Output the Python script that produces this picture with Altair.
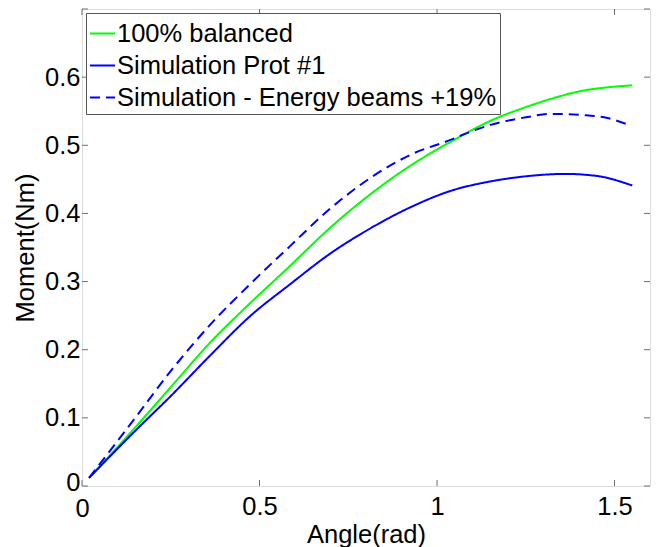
import altair as alt
import pandas as pd

# ---- data ----
x_green = [0.02, 0.15, 0.25, 0.36, 0.473, 0.586, 0.699, 0.812, 0.925, 1.038, 1.09, 1.151, 1.25, 1.32, 1.42, 1.48, 1.55]
y_green = [0.012, 0.086, 0.145, 0.210, 0.268, 0.323, 0.379, 0.428, 0.470, 0.505, 0.520, 0.536, 0.556, 0.568, 0.581, 0.585, 0.588]

x_prot = [0.02, 0.15, 0.25, 0.36, 0.473, 0.586, 0.699, 0.812, 0.925, 1.038, 1.151, 1.26, 1.36, 1.45, 1.55]
y_prot = [0.012, 0.081, 0.132, 0.191, 0.249, 0.296, 0.341, 0.378, 0.409, 0.433, 0.447, 0.455, 0.458, 0.455, 0.441]

x_energy = [0.02, 0.15, 0.252, 0.36, 0.473, 0.586, 0.699, 0.812, 0.925, 1.038, 1.09, 1.151, 1.25, 1.32, 1.42, 1.48, 1.54]
y_energy = [0.012, 0.100, 0.170, 0.236, 0.296, 0.352, 0.407, 0.452, 0.486, 0.508, 0.519, 0.530, 0.541, 0.546, 0.544, 0.540, 0.530]

series_names = ["100% balanced", "Simulation Prot #1", "Simulation - Energy beams +19%"]
series_colors = ["#00FF00", "#0000FF", "#0000FF"]
series_dash = [[1, 0], [1, 0], [10, 6]]

x_ticks = [0, 0.5, 1, 1.5]
y_ticks = [0, 0.1, 0.2, 0.3, 0.4, 0.5, 0.6]
x_domain = [0, 1.6]
y_domain = [0, 0.7]

rows = []
for name, xs, ys in zip(series_names, [x_green, x_prot, x_energy], [y_green, y_prot, y_energy]):
    for i, (a, b) in enumerate(zip(xs, ys)):
        rows.append({"series": name, "angle": a, "moment": b, "order": i})
df = pd.DataFrame(rows)

W, H = 568, 477
FONT = "Liberation Sans"
FRAME = "#707070"
FS = 25.5

xscale = alt.Scale(domain=x_domain, nice=False, zero=False)
yscale = alt.Scale(domain=y_domain, nice=False, zero=False)

lines = alt.Chart(df).mark_line(strokeWidth=2, clip=True, interpolate="monotone").encode(
    x=alt.X("angle:Q", scale=xscale, title="Angle(rad)",
            axis=alt.Axis(values=x_ticks, format="~g", tickSize=0,
                          labelPadding={"condition": {"test": "datum.value == 0", "value": 10}, "value": 8},
                          grid=False,
                          domain=False, labelFontSize=FS, titleFontSize=FS,
                          labelFont=FONT, titleFont=FONT, labelColor="black",
                          titleColor="black", titleFontWeight="normal", titlePadding=1,
                          labelFlush=False)),
    y=alt.Y("moment:Q", scale=yscale, title="Moment(Nm)",
            axis=alt.Axis(values=y_ticks, format="~g", tickSize=0, labelPadding=2, grid=False,
                          labelOffset={"condition": {"test": "datum.value == 0", "value": -4}, "value": 0},
                          domain=False, labelFontSize=FS, titleFontSize=FS,
                          labelFont=FONT, titleFont=FONT, labelColor="black",
                          titleColor="black", titleFontWeight="normal", titlePadding=6,
                          labelFlush=False)),
    color=alt.Color("series:N",
                    scale=alt.Scale(domain=series_names, range=series_colors),
                    legend=alt.Legend(title=" ", titleFontSize=4, titlePadding=0,
                                      orient="none", legendX=4, legendY=4,
                                      symbolType="stroke", symbolSize=625, symbolStrokeWidth=2,
                                      labelFontSize=FS, labelFont=FONT, labelColor="black",
                                      labelOffset=1, padding=3, rowPadding=5,
                                      fillColor="white", strokeColor="#555555",
                                      labelLimit=500)),
    strokeDash=alt.StrokeDash("series:N",
                              scale=alt.Scale(domain=series_names, range=series_dash),
                              legend=None),
    order="order:Q",
)

# inward ticks (MATLAB style) on all four sides
xt = pd.DataFrame({"v": x_ticks})
yt = pd.DataFrame({"v": y_ticks + [0.7]})
tick_len = 6
xb = alt.Chart(xt).mark_rule(color=FRAME, strokeWidth=1).encode(
    x=alt.X("v:Q", scale=xscale), y=alt.value(H), y2=alt.value(H - tick_len))
xtop = alt.Chart(xt).mark_rule(color=FRAME, strokeWidth=1).encode(
    x=alt.X("v:Q", scale=xscale), y=alt.value(0), y2=alt.value(tick_len))
yl = alt.Chart(yt).mark_rule(color=FRAME, strokeWidth=1).encode(
    y=alt.Y("v:Q", scale=yscale), x=alt.value(0), x2=alt.value(tick_len))
yr = alt.Chart(yt).mark_rule(color=FRAME, strokeWidth=1).encode(
    y=alt.Y("v:Q", scale=yscale), x=alt.value(W), x2=alt.value(W - tick_len))

chart = alt.layer(xb, xtop, yl, yr, lines).properties(
    width=W, height=H,
    autosize=alt.AutoSizeParams(type="none"),
    padding={"left": 82, "top": 9, "right": 10, "bottom": 61},
).configure_view(stroke=FRAME, strokeWidth=1.2).configure(background="white")

chart.save("out.html", embed_options={"renderer": "svg", "actions": False})
